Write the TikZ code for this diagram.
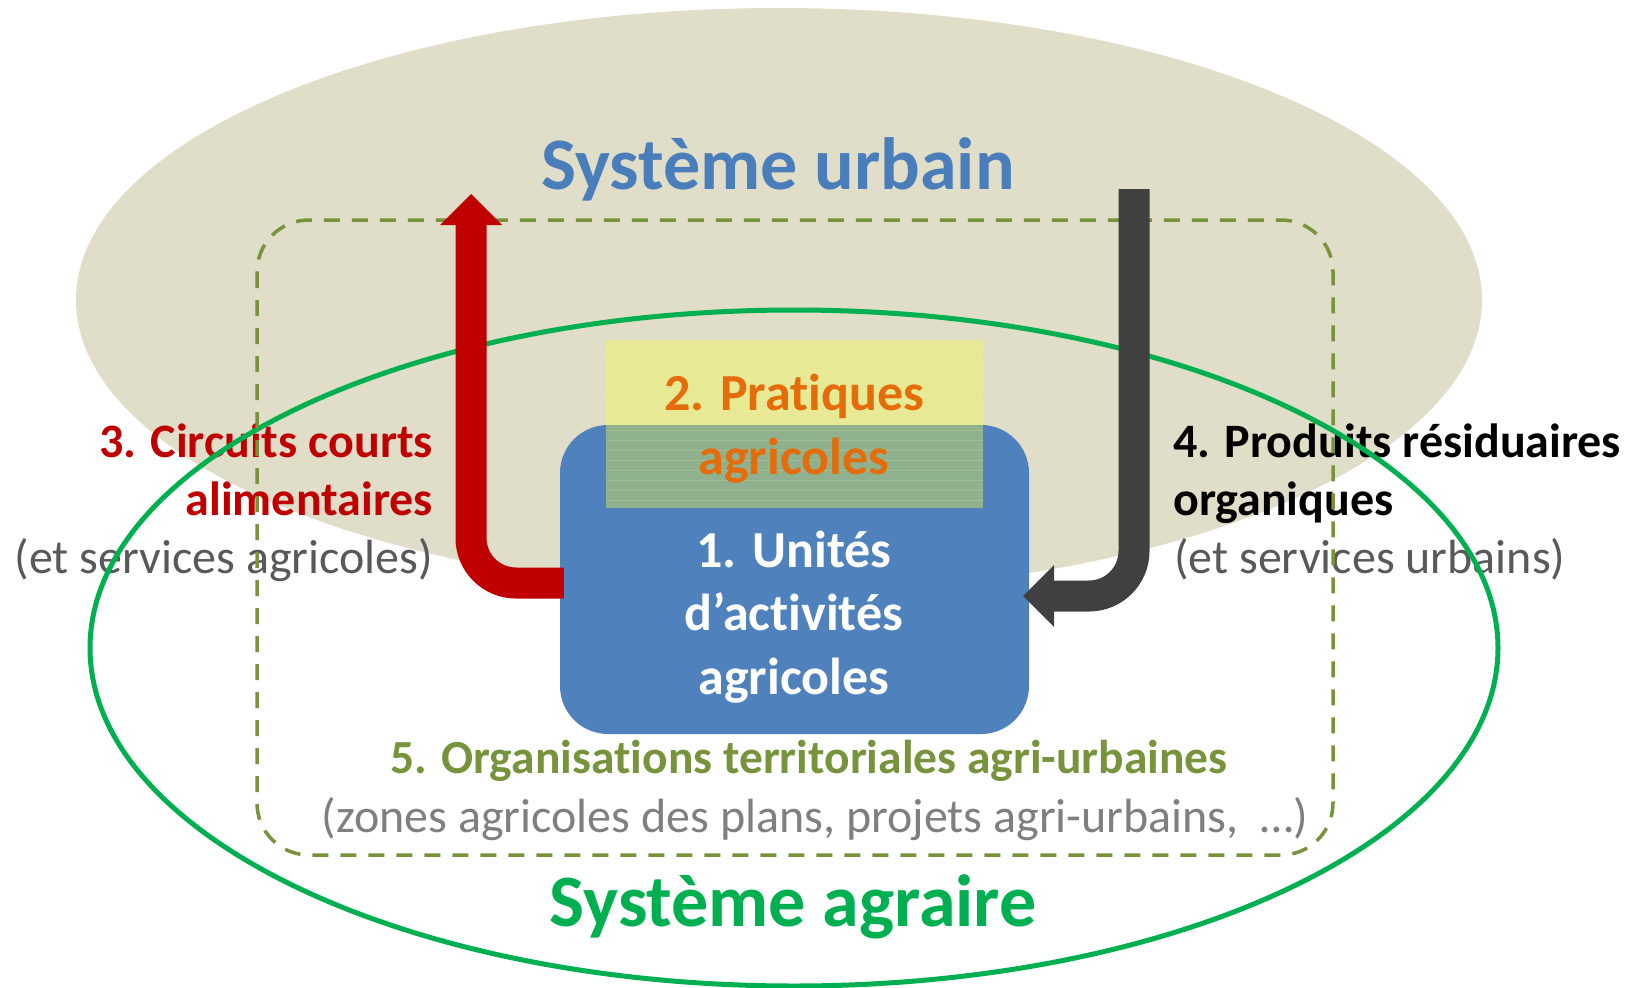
\documentclass[tikz,border=0pt]{standalone}
\usepackage{fontspec}
\setmainfont{Carlito}[RawFeature={-liga;-clig;-dlig;-calt}]
\usetikzlibrary{arrows.meta,calc}
\definecolor{beige}{HTML}{E0DDC8}
\definecolor{agrgreen}{HTML}{00B050}
\definecolor{olive}{HTML}{77933C}
\definecolor{unitblue}{HTML}{4F81BD}
\definecolor{urbblue}{HTML}{4A7EBB}
\definecolor{pratyellow}{HTML}{F2FB48}
\definecolor{pratorange}{HTML}{E46C0A}
\definecolor{circred}{HTML}{C00000}
\definecolor{darkarrow}{HTML}{404040}
\definecolor{greytxt}{HTML}{595959}
\definecolor{lightgreytxt}{HTML}{7F7F7F}
\tikzset{
  titlefont/.style={font=\bfseries\fontsize{74}{89}\selectfont, inner sep=0pt},
  boxfont/.style={font=\bfseries\fontsize{52}{63}\selectfont, inner sep=0pt},
  sidebold/.style={font=\bfseries\fontsize{48}{58}\selectfont, inner sep=0pt},
  sidereg/.style={font=\fontsize{48}{58}\selectfont, inner sep=0pt, text=greytxt},
  orgbold/.style={font=\bfseries\fontsize{47.5}{57}\selectfont, inner sep=0pt, text=olive},
  orgreg/.style={font=\fontsize{48}{58}\selectfont, inner sep=0pt, text=lightgreytxt},
  flowarrow/.style={line width=31pt, rounded corners=45pt,
    -{Triangle[length=31pt,width=62pt,line width=0pt]}},
}
\begin{document}
\begin{tikzpicture}[x=1pt,y=-1pt]
\useasboundingbox (0,0) rectangle (1626,988);
% urban system
\fill[beige] (779,300) ellipse [x radius=703pt, y radius=292pt];
% side texts
\node[sidebold, text=circred, anchor=base east] (c1) at (433,457) {3. Circuits courts};
\node[sidebold, text=circred, anchor=base east] (c2) at (433,515) {alimentaires};
\node[sidereg, anchor=base east] (c3) at (433,573) {(et services agricoles)};
\node[sidebold, text=black, anchor=base west] (p1) at (1173,457) {4. Produits résiduaires};
\node[sidebold, text=black, anchor=base west] (p2) at (1173,515) {organiques};
\node[sidereg, anchor=base west] (p3) at (1174,573) {(et services urbains)};
% agrarian system
\draw[agrgreen, line width=5pt] (794,648) ellipse [x radius=704pt, y radius=338pt];
% territorial organisations
\draw[olive, line width=3.5pt, dash pattern=on 16pt off 12pt, rounded corners=52pt]
  (257,220) rectangle (1333,855);
% farm units
\node[fill=unitblue, rounded corners=48pt, minimum width=469pt, minimum height=309pt, inner sep=0pt]
  (unit) at (794.5,579.5) {};
\node[boxfont, text=white, anchor=base] (u1) at (794,567) {1. Unités};
\node[boxfont, text=white, anchor=base] (u2) at (794,630) {d’activités};
\node[boxfont, text=white, anchor=base] (u3) at (794,694) {agricoles};
% practices
\node[fill=pratyellow, fill opacity=0.4, minimum width=377pt, minimum height=168pt, inner sep=0pt]
  (prat) at (794.5,424) {};
\foreach \yy in {350,360,...,500}
  \draw[pratyellow!50!white, opacity=0.18, line width=1pt] (prat.west |- 0,\yy) -- (prat.east |- 0,\yy);
\node[boxfont, text=pratorange, anchor=base] (pr1) at (794,410) {2. Pratiques};
\node[boxfont, text=pratorange, anchor=base] (pr2) at (794,474) {agricoles};
% arrows
\coordinate (redtip) at (471,194);
\coordinate (darktop) at (1134,189);
\draw[flowarrow, circred] ($(unit.west)+(4,3.5)$) -| (redtip);
\draw[flowarrow, darkarrow] (darktop) |- ($(unit.east)+(-6,16.5)$);
% titles
\node[titlefont, text=urbblue, anchor=base] (urb) at (778,189) {Système urbain};
\node[titlefont, text=agrgreen, anchor=base] (agr) at (793,926) {Système agraire};
\node[orgbold, anchor=base] (o1) at (809,773) {5. Organisations territoriales agri-urbaines};
\node[orgreg, anchor=base] (o2) at (815,832) {(zones agricoles des plans, projets agri-urbains,\ \ …)};
\end{tikzpicture}
\end{document}
